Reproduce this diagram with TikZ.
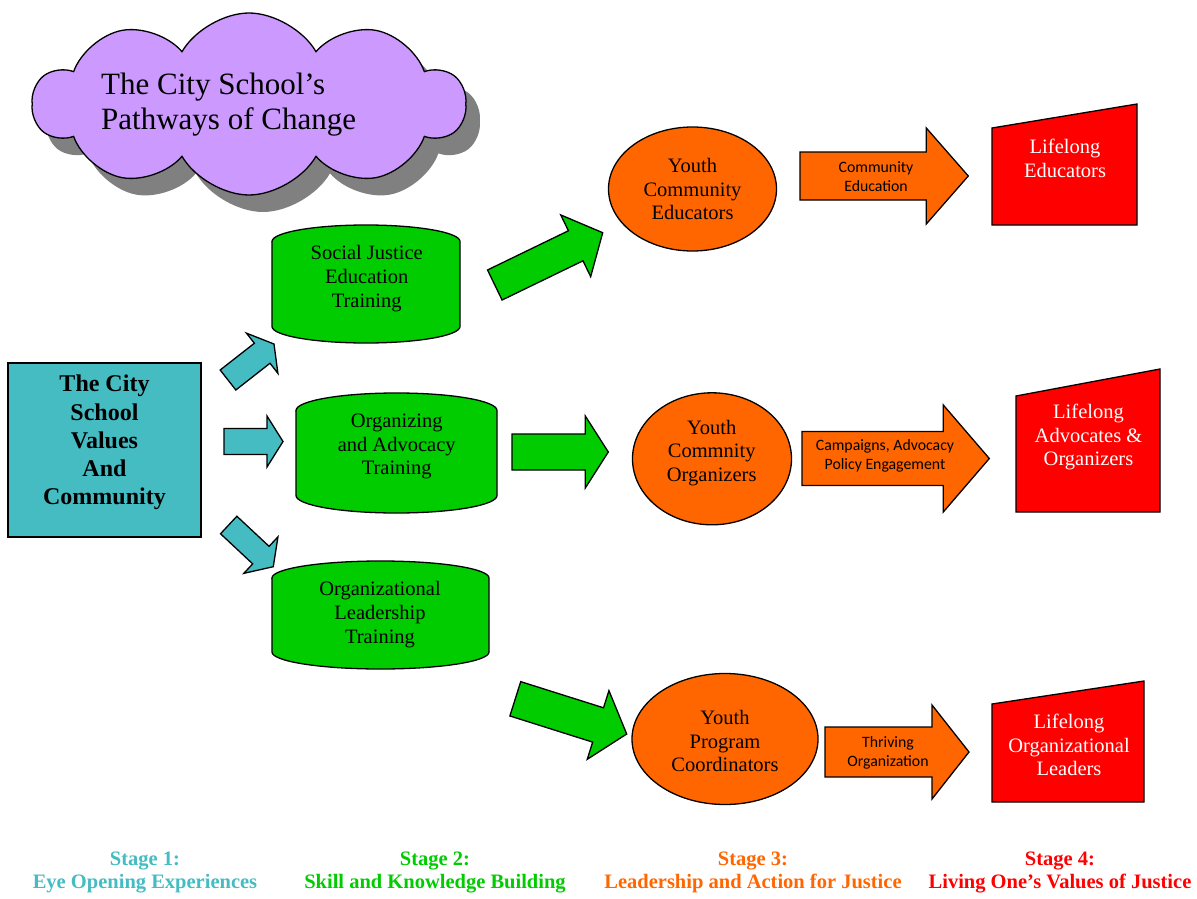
\documentclass[tikz,border=0pt]{standalone}
\usepackage{fontspec}
\setmainfont{Liberation Serif}
\newfontfamily\calib{Carlito}
\usetikzlibrary{shapes.geometric,shapes.symbols,calc}
\definecolor{tealc}{HTML}{45BBC2}
\definecolor{greenc}{HTML}{00CC00}
\definecolor{orangec}{HTML}{FF6600}
\definecolor{redc}{HTML}{FF0000}
\definecolor{purplec}{HTML}{CC99FF}
\definecolor{shadowc}{HTML}{808080}
\newcommand\blockarrow[6]{%
  \coordinate (hb) at ($(#3)!#6!(#2)$);
  \draw[#1] ($(#2)!#4!90:(#3)$) -- ($(hb)!#4!90:(#3)$) -- ($(hb)!#5!90:(#3)$) -- (#3)
     -- ($(hb)!#5!-90:(#3)$) -- ($(hb)!#4!-90:(#3)$) -- ($(#2)!#4!-90:(#3)$) -- cycle;}
\newcommand\cylpath[6]{%
  \pgfmathsetmacro\cylrx{(#3-#2)/2}%
  \draw[#1] (#2,#4+#6) -- (#2,#5-#6)
     arc[start angle=180,end angle=360,x radius=\cylrx bp,y radius=#6bp]
     -- (#3,#4+#6)
     arc[start angle=0,end angle=180,x radius=\cylrx bp,y radius=#6bp] -- cycle;}
\tikzset{
  outl/.style={draw=black,line width=1.3bp},
  tealarrow/.style={outl,fill=tealc},
  greenarrow/.style={outl,fill=greenc},
  orangearrow/.style={outl,fill=orangec},
  cylstyle/.style={outl,fill=greenc},
  redshape/.style={outl,fill=redc},
  seriftext/.style={align=center,inner sep=0,font=\fontsize{20.5bp}{23.8bp}\selectfont},
  whitetext/.style={seriftext,text=white},
  arrowlabel/.style={align=center,inner sep=0,font=\calib\fontsize{15.8bp}{18.8bp}\selectfont},
  stagetext/.style={align=center,inner sep=0,font=\bfseries\fontsize{20.5bp}{23bp}\selectfont},
  youthellipse/.style={ellipse,outl,fill=orangec,inner sep=0},
  cloudshape/.style={cloud,cloud puffs=10,cloud puff arc=120,cloud ignores aspect,minimum width=432bp,minimum height=182bp,inner sep=0}
}
\begin{document}
\begin{tikzpicture}[x=1bp,y=-1bp]
\useasboundingbox (0,0) rectangle (1197,899);
% cloud
\node[cloudshape,fill=shadowc] (cloudshadow) at (263,121) {};
\node[cloudshape,fill=purplec,outl] (cloud) at (249,104) {};
\node[anchor=west,align=left,inner sep=0,font=\fontsize{31bp}{35bp}\selectfont] (title) at (101,104.5) {The City School’s\\Pathways of Change};
% teal box
\node[outl,fill=tealc,minimum width=193bp,minimum height=174bp,inner sep=0] (tcsbox) at (104.5,450) {};
\node[align=center,inner sep=0,font=\bfseries\fontsize{24bp}{28.2bp}\selectfont] (tcstext) at (104.5,442.5) {The City\\School\\Values\\And\\Community};
% cylinders
\cylpath{cylstyle}{272}{460}{225}{343}{16.5}
\node[seriftext] (sje) at (366.7,278.5) {Social Justice\\Education\\Training};
\cylpath{cylstyle}{296}{497}{393}{513}{17.5}
\node[seriftext] (oat) at (396.7,446.5) {Organizing\\and Advocacy\\Training};
\cylpath{cylstyle}{272}{489}{561}{669}{17}
\node[seriftext] (olt) at (380,614.5) {Organizational\\Leadership\\Training};
% ellipses
\node[youthellipse,minimum width=168bp,minimum height=124bp] (yce) at (692.5,189) {};
\node[seriftext] (ycetext) at (692.5,189) {Youth\\Community\\Educators};
\node[youthellipse,minimum width=159bp,minimum height=132bp] (yco) at (712,458.8) {};
\node[seriftext] (ycotext) at (711.7,453) {Youth\\Commnity\\Organizers};
\node[youthellipse,minimum width=186bp,minimum height=131bp] (ypc) at (725,739) {};
\node[seriftext] (ypctext) at (725,741) {Youth\\Program\\Coordinators};
% trapezoids
\draw[redshape] (992,128) -- (1137,104) -- (1137,225) -- (992,225) -- cycle;
\node[whitetext] (le) at (1065,158) {Lifelong\\Educators};
\draw[redshape] (1016,396) -- (1160,369) -- (1160,512) -- (1016,512) -- cycle;
\node[whitetext] (lao) at (1088.5,437) {Lifelong\\Advocates \&\\Organizers};
\draw[redshape] (992,704) -- (1144,681) -- (1144,802) -- (992,802) -- cycle;
\node[whitetext] (lol) at (1069,745) {Lifelong\\Organizational\\Leaders};
% arrow coordinates
\coordinate (t1a) at (228,380);   \coordinate (t1b) at (274,344);
\coordinate (t2a) at (224,441.5); \coordinate (t2b) at (283,441.5);
\coordinate (t3a) at (228.7,525); \coordinate (t3b) at (273.3,566.7);
\coordinate (g1a) at (494.8,285); \coordinate (g1b) at (602.7,232.7);
\coordinate (g2a) at (512,452);   \coordinate (g2b) at (608.3,452);
\coordinate (g3a) at (515.3,698.8); \coordinate (g3b) at (626.7,734);
\coordinate (o1a) at (800,176);   \coordinate (o1b) at (968.3,176);
\coordinate (o2a) at (802,458.5); \coordinate (o2b) at (989.3,458.5);
\coordinate (o3a) at (825,752);   \coordinate (o3b) at (969,752);
\blockarrow{tealarrow}{t1a}{t1b}{12.7bp}{25.5bp}{15bp}
\blockarrow{tealarrow}{t2a}{t2b}{13bp}{25.5bp}{16bp}
\blockarrow{tealarrow}{t3a}{t3b}{12bp}{25bp}{17bp}
\blockarrow{greenarrow}{g1a}{g1b}{16.7bp}{34.3bp}{30bp}
\blockarrow{greenarrow}{g2a}{g2b}{18bp}{36bp}{23bp}
\blockarrow{greenarrow}{g3a}{g3b}{18bp}{36bp}{30bp}
\blockarrow{orangearrow}{o1a}{o1b}{24bp}{48bp}{42bp}
\blockarrow{orangearrow}{o2a}{o2b}{27bp}{53.5bp}{46bp}
\blockarrow{orangearrow}{o3a}{o3b}{25bp}{47bp}{37bp}
\node[arrowlabel] (ce) at (876,176.5) {Community\\Education};
\node[arrowlabel] (cap) at (885,456) {Campaigns, Advocacy\\Policy Engagement};
\node[arrowlabel] (thr) at (888,752.5) {Thriving\\Organization};
% stages
\node[stagetext,text=tealc] (s1) at (145,872.5) {Stage 1:\\Eye Opening Experiences};
\node[stagetext,text=greenc] (s2) at (435,872.5) {Stage 2:\\Skill and Knowledge Building};
\node[stagetext,text=orangec] (s3) at (753,872.5) {Stage 3:\\Leadership and Action for Justice};
\node[stagetext,text=redc] (s4) at (1060,872.5) {Stage 4:\\Living One’s Values of Justice};
\end{tikzpicture}
\end{document}
